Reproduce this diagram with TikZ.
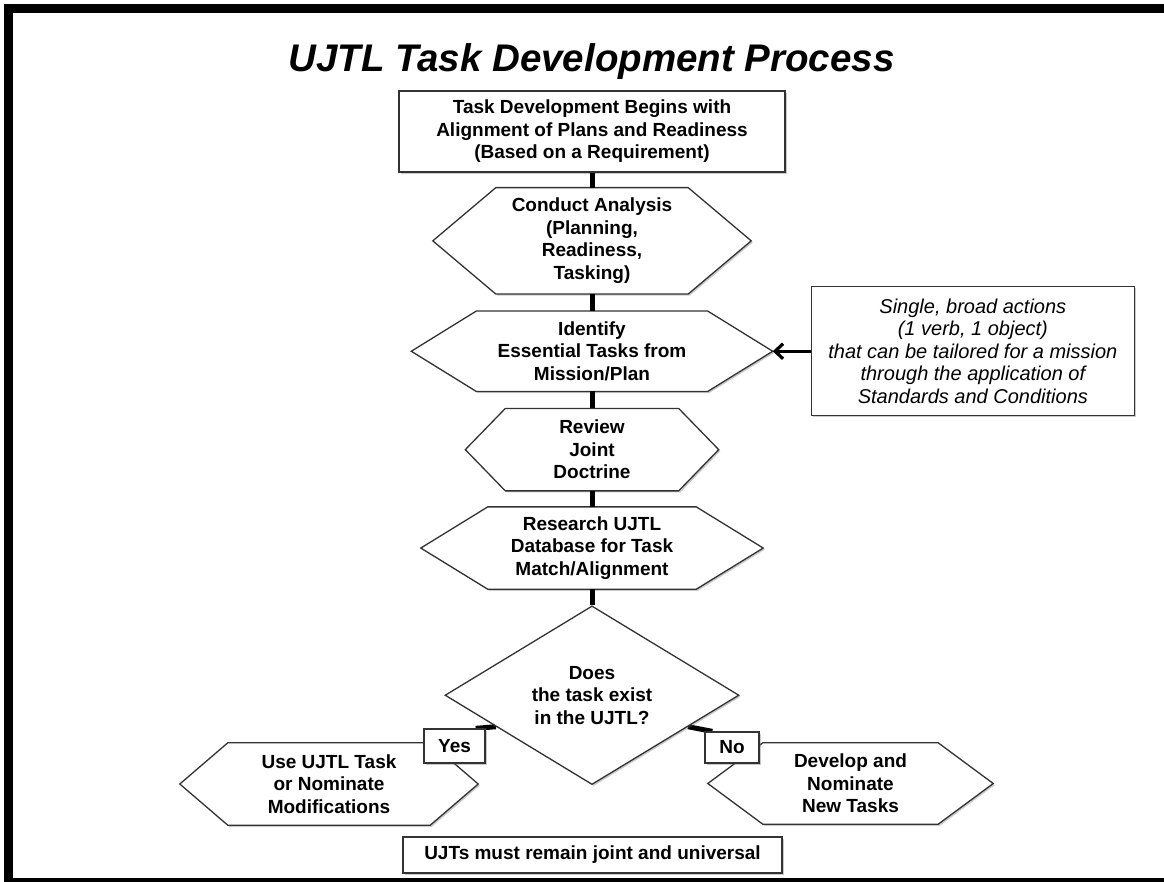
\documentclass[tikz,border=0pt]{standalone}
\usepackage{fontspec}
\setmainfont{Liberation Sans}
\usetikzlibrary{arrows.meta,positioning,shapes.geometric,shadows,backgrounds,calc}
\tikzset{
outline/.style={draw=black!80, line width=1.3pt},
soft shadow/.style={drop shadow={shadow xshift=1.6pt, shadow yshift=-1.6pt, opacity=.35, fill=black!60}},
bodyfont/.style={font=\bfseries\fontsize{19}{22.5}\selectfont},
stepbox/.style={outline, soft shadow, fill=white, align=center, bodyfont, inner sep=0pt},
hexnode/.style={align=center, bodyfont, inner sep=0pt},
notebox/.style={stepbox, font=\itshape\fontsize{20}{22.5}\selectfont},
decision/.style={diamond, stepbox, minimum width=294pt, minimum height=162pt},
title/.style={font=\bfseries\itshape\fontsize{38.5}{44}\selectfont},
link/.style={line width=5pt, black},
arr/.style={-{Straight Barb[length=8pt,width=15pt,line width=3.2pt]}, line width=3pt},
}
% hexagon drawn behind a node: name, inset of the points
\newcommand{\hexshape}[2]{%
  \begin{scope}[on background layer]
    \draw[outline, soft shadow, fill=white]
      ([xshift=#2]#1.north west) -- ([xshift=-#2]#1.north east) -- (#1.east)
      -- ([xshift=-#2]#1.south east) -- ([xshift=#2]#1.south west) -- (#1.west) -- cycle;
  \end{scope}}

\begin{document}
\begin{tikzpicture}[x=1pt,y=-1pt]
    \useasboundingbox (0,0) rectangle (1164,882);
    % frame
    \begin{scope}
        \clip (0,0) rectangle (1164,882);
        \draw[line width=9pt] (8.5,8.5) rectangle (1180,882.5);
    \end{scope}

    \node[title, anchor=base] (title) at (591.5,72) {UJTL Task Development Process};

    % main chain
    \node[stepbox, minimum width=386pt, minimum height=81pt] (begin) at (592,131.5)
        {Task Development Begins with\\Alignment of Plans and Readiness\\(Based on a Requirement)};
    \node[hexnode, minimum width=318pt, minimum height=106pt, below=15pt of begin] (analysis)
        {Conduct Analysis\\(Planning,\\Readiness,\\Tasking)};
    \node[hexnode, minimum width=361pt, minimum height=80pt, below=17pt of analysis] (identify)
        {Identify\\Essential Tasks from\\Mission/Plan};
    \node[hexnode, minimum width=253pt, minimum height=82pt, below=17pt of identify] (review)
        {Review\\Joint\\Doctrine};
    \node[hexnode, minimum width=342pt, minimum height=82pt, below=16pt of review] (research)
        {Research UJTL\\Database for Task\\Match/Alignment};
    \node[decision, below=16pt of research] (exist)
        {Does\\the task exist\\in the UJTL?};
    \hexshape{analysis}{63pt}
    \hexshape{identify}{65pt}
    \hexshape{review}{40pt}
    \hexshape{research}{67pt}

    \draw[link] (begin) -- (analysis);
    \draw[link] (analysis) -- (identify);
    \draw[link] (identify) -- (review);
    \draw[link] (review) -- (research);
    \draw[link] (research) -- (exist);

    % side note
    \node[notebox, minimum width=323pt, minimum height=129pt, right=38pt of identify] (note)
        {Single, broad actions\\(1 verb, 1 object)\\that can be tailored for a mission\\through the application of\\Standards and Conditions};
    \draw[arr] (note) -- (identify.east);

    % outcomes
    \node[hexnode, minimum width=298pt, minimum height=82pt] (use) at (329,784)
        {Use UJTL Task\\or Nominate\\Modifications};
    \node[hexnode, minimum width=285pt, minimum height=81pt] (develop) at (850.5,783.5)
        {Develop and\\Nominate\\New Tasks};
    \hexshape{use}{48pt}
    \hexshape{develop}{55pt}

    \coordinate (yes end) at ($(exist.west)!0.35!(exist.south)$);
    \coordinate (no end) at ($(exist.east)!0.35!(exist.south)$);
    \node[stepbox, minimum width=61pt, minimum height=34pt] (yes) at (454.5,746) {Yes};
    \node[stepbox, minimum width=54pt, minimum height=31pt] (no) at (732,747.5) {No};
    \begin{scope}[on background layer]
        \draw[link] (yes end) -- ([xshift=-10pt]yes.north east);
        \draw[link] (no end) -- ([xshift=8pt]no.north west);
    \end{scope}

    \node[stepbox, minimum width=379pt, minimum height=36pt] (rule) at (592.5,855)
        {UJTs must remain joint and universal};
\end{tikzpicture}
\end{document}
